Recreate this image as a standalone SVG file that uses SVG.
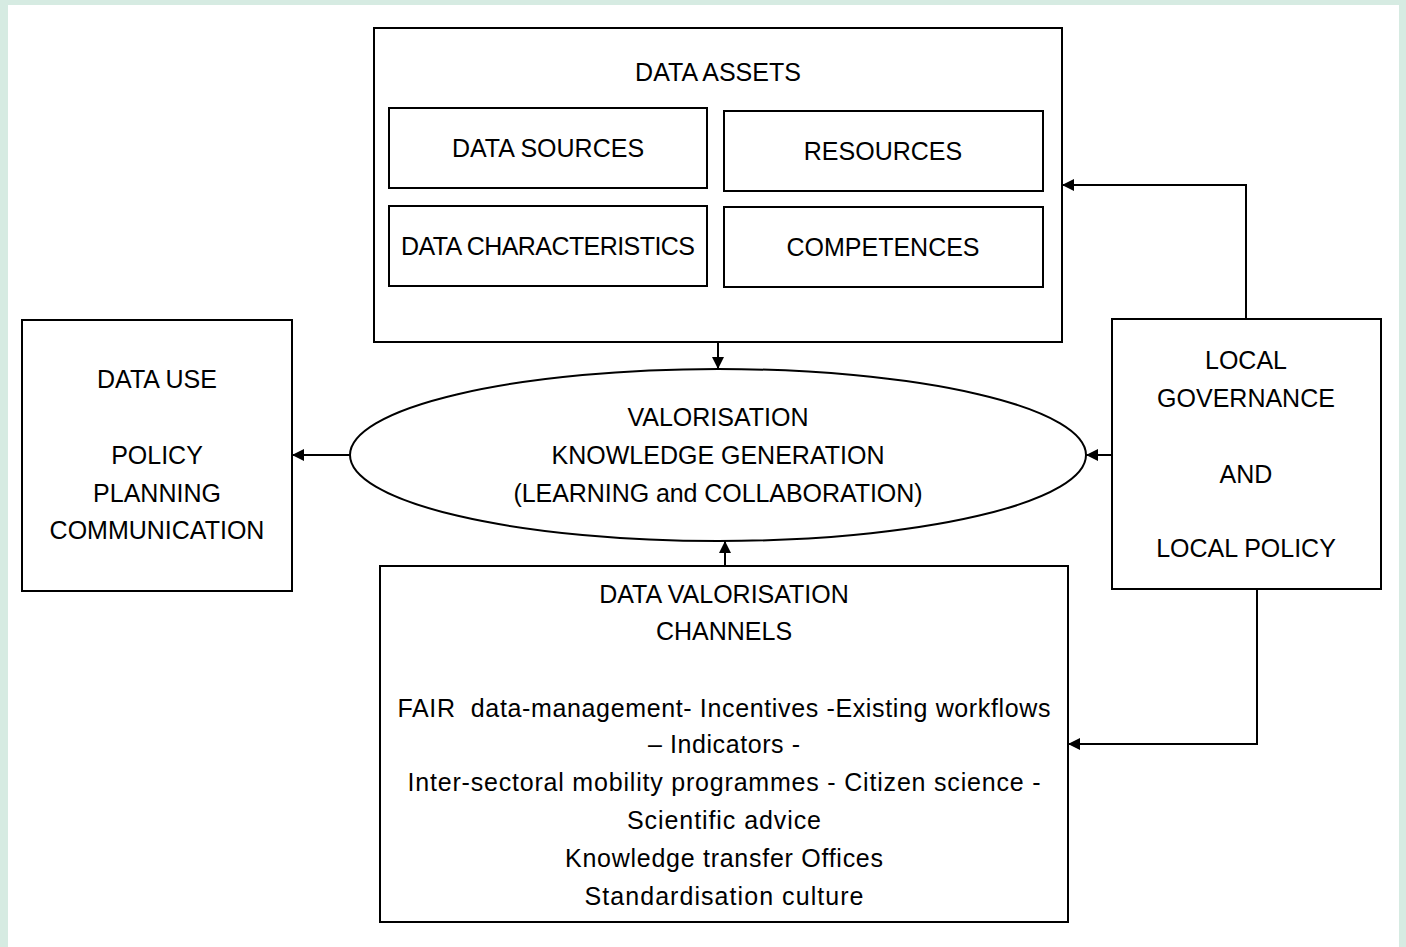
<svg xmlns="http://www.w3.org/2000/svg" width="1406" height="947" viewBox="0 0 1406 947">
<style>
.b{fill:#fff;stroke:#000;stroke-width:2}
.c{fill:none;stroke:#000;stroke-width:2}
text{font-family:"Liberation Sans",Arial,sans-serif;font-size:25px;fill:#000;text-anchor:middle}
</style>
<defs>
<marker id="a" viewBox="0 0 10 10" refX="10" refY="5" markerWidth="6" markerHeight="6" markerUnits="strokeWidth" orient="auto"><path d="M0,0L10,5L0,10z" fill="#000"/></marker>
</defs>
<rect width="1406" height="947" fill="#d6ebe2"/>
<rect x="8" y="5" width="1391" height="942" fill="#fff"/>
<g id="data-assets">
<rect class="b" x="374" y="28" width="688" height="314"/>
<text x="718" y="81">DATA ASSETS</text>
</g>
<g id="data-sources"><rect class="b" x="389" y="108" width="318" height="80"/><text x="548" y="157">DATA SOURCES</text></g>
<g id="resources"><rect class="b" x="724" y="111" width="319" height="80"/><text x="883" y="160">RESOURCES</text></g>
<g id="data-characteristics"><rect class="b" x="389" y="206" width="318" height="80"/><text x="548" y="255" textLength="294">DATA CHARACTERISTICS</text></g>
<g id="competences"><rect class="b" x="724" y="207" width="319" height="80"/><text x="883" y="256">COMPETENCES</text></g>
<g id="data-use">
<rect class="b" x="22" y="320" width="270" height="271"/>
<text x="157" y="388">DATA USE</text>
<text x="157" y="464">POLICY</text>
<text x="157" y="502">PLANNING</text>
<text x="157" y="539">COMMUNICATION</text>
</g>
<g id="valorisation">
<ellipse class="b" cx="718" cy="455" rx="368" ry="86"/>
<text x="718" y="426">VALORISATION</text>
<text x="718" y="464">KNOWLEDGE GENERATION</text>
<text x="718" y="502" textLength="409">(LEARNING and COLLABORATION)</text>
</g>
<g id="local-governance">
<rect class="b" x="1112" y="319" width="269" height="270"/>
<text x="1246" y="369">LOCAL</text>
<text x="1246" y="407">GOVERNANCE</text>
<text x="1246" y="483">AND</text>
<text x="1246" y="557">LOCAL POLICY</text>
</g>
<g id="channels">
<rect class="b" x="380" y="566" width="688" height="356"/>
<text x="724" y="603">DATA VALORISATION</text>
<text x="724" y="640">CHANNELS</text>
<text x="724" y="717" textLength="653">FAIR&#160; data-management- Incentives -Existing workflows</text>
<text x="724" y="753" textLength="152">– Indicators -</text>
<text x="724" y="791" textLength="633">Inter-sectoral mobility programmes - Citizen science -</text>
<text x="724" y="829" textLength="194">Scientific advice</text>
<text x="724" y="867" textLength="318">Knowledge transfer Offices</text>
<text x="724" y="905" textLength="279">Standardisation culture</text>
</g>
<g id="connectors">
<path class="c" d="M718,342V369" marker-end="url(#a)"/>
<path class="c" d="M350,455H292" marker-end="url(#a)"/>
<path class="c" d="M1112,455H1086" marker-end="url(#a)"/>
<path class="c" d="M725,566V541" marker-end="url(#a)"/>
<path class="c" d="M1246,319V185H1062" marker-end="url(#a)"/>
<path class="c" d="M1257,589V744H1068" marker-end="url(#a)"/>
</g>
</svg>
